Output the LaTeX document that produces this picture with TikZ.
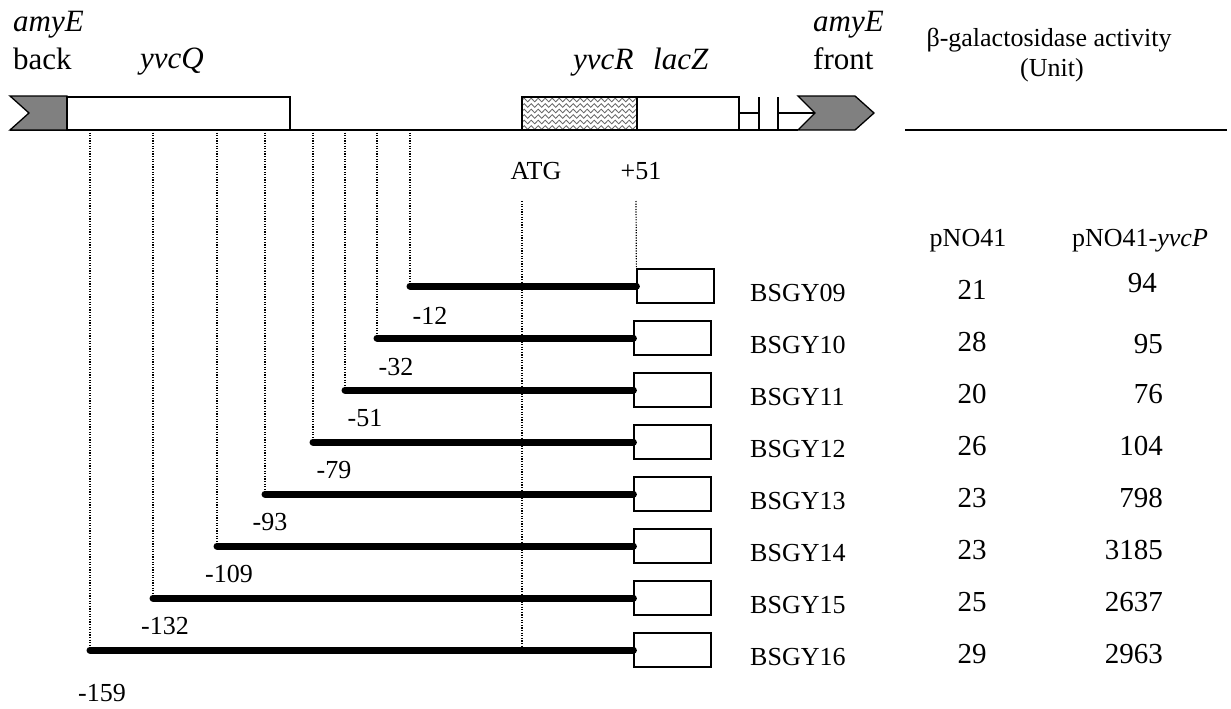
\documentclass[tikz,border=0pt]{standalone}
\usepackage{fontspec}
\setmainfont{Liberation Serif}
\usetikzlibrary{decorations.pathmorphing}
\definecolor{chev}{HTML}{808080}
\tikzset{
  gene/.style={draw=black, line width=1.3, fill=white},
  chevron/.style={draw=black, line width=1.3, fill=chev},
  dotline/.style={line width=1.2, dash pattern=on 1.2pt off 1.4pt},
  bar/.style={line width=7, line cap=round},
  rep/.style={draw=black, line width=1.2, fill=white, minimum width=77, minimum height=34, inner sep=0},
  toplab/.style={font=\fontsize{31}{36}\selectfont, anchor=base west, inner sep=0},
  lab/.style={font=\fontsize{26}{30}\selectfont, inner sep=0},
  val/.style={font=\fontsize{29}{33}\selectfont, inner sep=0},
  wave/.style={black!60, line width=0.8, decorate, decoration={snake, segment length=7, amplitude=1.8}},
}
\begin{document}
\begin{tikzpicture}[x=1pt,y=-1pt]
\useasboundingbox (0,0) rectangle (1231,709);
% backbone
\coordinate (L0) at (10,130);
\coordinate (R0) at (798,130);
\draw[line width=1.3] (L0) -- (R0);
% left chevron
\draw[chevron] (10,96) -- (67,96) -- (67,130) -- (10,130) -- (29,113) -- cycle;
% yvcQ
\draw[gene] (67,97) rectangle (290,130);
% yvcR hatched
\fill[white] (522,97) rectangle (637,130);
\begin{scope}
\clip (522,97) rectangle (637,130);
\foreach \yy in {100,105.5,111,116.5,122,127.5}{
  \draw[wave] (515,\yy) -- (645,\yy);
}
\end{scope}
\draw[line width=1.3] (522,97) rectangle (637,130);
% lacZ
\draw[gene] (637,97) rectangle (739,130);
\draw[line width=1.3] (739,113) -- (759,113);
\draw[line width=1.3] (759,97) -- (759,130);
\draw[line width=1.3] (778,97) -- (778,130);
\draw[line width=1.3] (778,113) -- (815,113);
% right chevron
\draw[chevron] (798,96) -- (855,96) -- (874,113) -- (855,130) -- (798,130) -- (815,113) -- cycle;
% top labels
\node[toplab] (amyEb) at (13,32) {\itshape amyE};
\node[toplab] (back) at (13,70) {back};
\node[toplab] (yvcQ) at (140,68) {\itshape yvcQ};
\node[toplab] (yvcR) at (573,70) {\itshape yvcR};
\node[toplab] (lacZ) at (653,70) {\itshape lacZ};
\node[toplab] (amyEf) at (813,32) {\itshape amyE};
\node[toplab] (front) at (813,70) {front};
% header right
\node[lab, anchor=base] (beta) at (1049,47) {β-galactosidase activity};
\node[lab, anchor=base] (unit) at (1052,77) {(Unit)};
\coordinate (H1) at (905,130);
\coordinate (H2) at (1227,130);
\draw[line width=1.3] (H1) -- (H2);
\node[lab, anchor=base] (p1) at (968,246) {pNO41};
\node[lab, anchor=base] (p2) at (1140,246) {pNO41-\textit{yvcP}};
% ATG and +51
\node[lab, anchor=base] (atg) at (536,179) {ATG};
\node[lab, anchor=base] (p51) at (641,179) {+51};
\coordinate (atgT) at (522,201);
\coordinate (atgB) at (522,650);
\draw[dotline] (atgT) -- (atgB);
\coordinate (p51T) at (636,201);
% constructs
\foreach \n/\xl/\y/\bx/\lt/\lx/\ly/\va/\vb/\vbx/\vby in {
  09/410/286/675.5/-12/430/316/21/94/1157/292,
  10/377/338/672.5/-32/396/367/28/95/1163/353,
  11/345/390/672.5/-51/365/418/20/76/1163/403,
  12/313/442/672.5/-79/334/470/26/104/1163/455,
  13/265/494/672.5/-93/270/522/23/798/1163/507,
  14/217/546/672.5/-109/229/574/23/3185/1163/559,
  15/153/598/672.5/-132/165/626/25/2637/1163/611,
  16/90/650/672.5/-159/102/693/29/2963/1163/663}{
  \coordinate (t\n) at (\xl,130);
  \coordinate (s\n) at (\xl,\y);
  \node[rep] (b\n) at (\bx,\y) {};
  \draw[dotline] (t\n) -- (s\n);
  \draw[bar] (s\n) -- (b\n.west);
  \node[lab] (l\n) at (\lx,\ly) {\lt};
  \node[lab, anchor=base west] (n\n) at (750,\y+15) {BSGY\n};
  \node[val, anchor=base] (va\n) at (972,\y+13) {\va};
  \node[val, anchor=base east] (vb\n) at (\vbx,\vby) {\vb};
}
\draw[dotline] (p51T) -- (b09.north west);
\end{tikzpicture}
\end{document}
